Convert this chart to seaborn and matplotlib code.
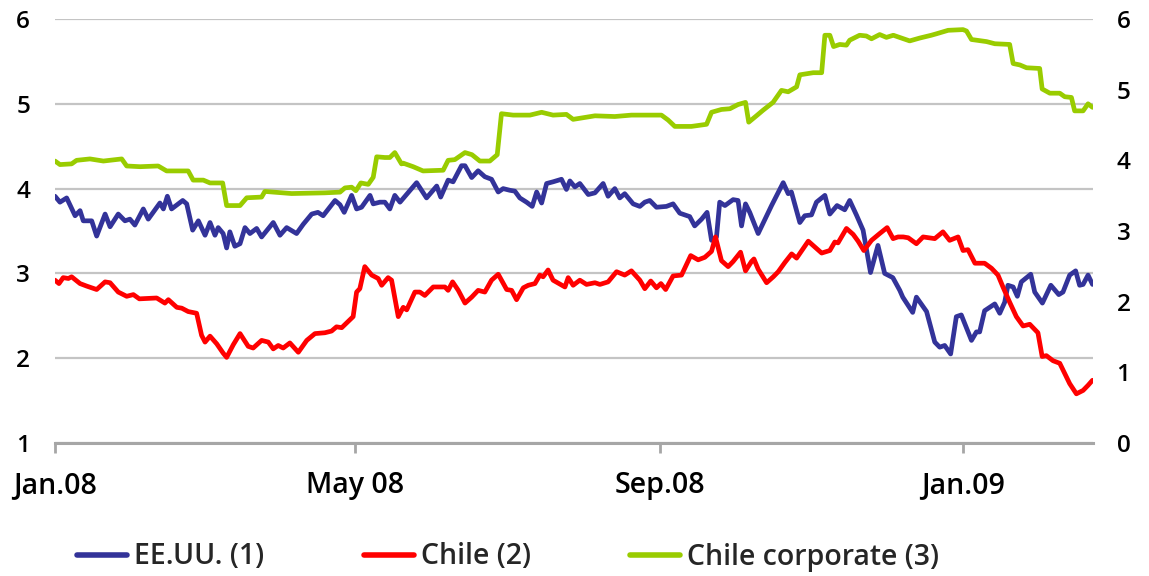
import matplotlib
matplotlib.use("Agg")
import matplotlib.pyplot as plt
import numpy as np
import pandas as pd
import seaborn as sns

# ---------------- data (days since 2008-01-01, values) ----------------
usa_days = [0, 2.0, 4.7, 8.1, 10.1, 11.4, 14.8, 16.8, 20.2, 22.2, 25.5, 28.2, 30.2, 32.2, 35.6, 37.6,
            42.3, 43.7, 45.3, 47.0, 51.5, 53.1, 55.5, 57.8, 60.5, 62.5, 64.5, 65.8, 67.8, 69.2, 70.5,
            72.5, 74.6, 76.6, 78.6, 81.3, 83.3, 88.0, 90.7, 93.4, 97.4, 100.1, 103.5, 106.0, 108.1,
            112.9, 114.9, 116.6, 119.6, 121.6, 123.6, 127.0, 128.3, 131.0, 133.0, 135.0, 137.0, 139.1,
            145.8, 149.8, 153.9, 155.5, 158.5, 160.5, 163.9, 165.3, 168.0, 170.6, 173.3, 176.0, 178.7,
            180.7, 183.4, 185.4, 187.4, 190.1, 192.4, 194.2, 196.2, 198.2, 200.8, 204.2, 206.2, 207.6,
            209.6, 211.6, 215.0, 217.7, 221.0, 223.0, 225.7, 227.7, 229.7, 233.1, 235.8, 237.8, 239.8,
            242.5, 246.5, 249.2, 251.9, 255.9, 257.9, 260.7, 262.9, 264.7, 266.7, 268.0, 270.1, 273.4,
            275.4, 276.8, 278.4, 280.1, 283.5, 288.9, 293.6, 295.6, 296.9, 300.3, 302.3, 305.0, 307.0,
            310.4, 312.4, 315.3, 318.4, 320.4, 323.1, 325.8, 328.8, 331.8, 334.5, 337.8, 340.6, 341.8,
            345.8, 347.3, 351.4, 354.7, 356.7, 358.7, 361.1, 363.4, 365.4, 369.5, 371.5, 372.8, 374.8,
            378.9, 380.9, 382.9, 384.2, 386.3, 388.0, 389.6, 393.4, 395.0, 398.1, 401.5, 404.7, 406.4,
            409.1, 411.5, 413.1, 414.5, 416.5, 418.3]
usa_vals = [3.91, 3.84, 3.89, 3.68, 3.74, 3.62, 3.62, 3.44, 3.70, 3.55, 3.70, 3.62, 3.64, 3.57, 3.76, 3.64,
            3.83, 3.76, 3.91, 3.76, 3.86, 3.82, 3.51, 3.62, 3.45, 3.60, 3.45, 3.54, 3.47, 3.30, 3.49,
            3.32, 3.35, 3.54, 3.47, 3.53, 3.43, 3.60, 3.45, 3.54, 3.47, 3.58, 3.70, 3.72, 3.68,
            3.86, 3.81, 3.72, 3.92, 3.76, 3.78, 3.92, 3.82, 3.84, 3.84, 3.76, 3.92, 3.84,
            4.07, 3.89, 4.03, 3.90, 4.10, 4.08, 4.27, 4.27, 4.13, 4.21, 4.14, 4.11, 3.96,
            4.00, 3.98, 3.97, 3.89, 3.84, 3.79, 3.96, 3.83, 4.06, 4.08, 4.11, 3.99, 4.09,
            4.02, 4.06, 3.93, 3.95, 4.06, 3.91, 4.00, 3.89, 3.94, 3.82, 3.79, 3.84, 3.86,
            3.78, 3.79, 3.82, 3.71, 3.67, 3.56, 3.64, 3.72, 3.39, 3.43, 3.84, 3.80, 3.87,
            3.86, 3.56, 3.82, 3.72, 3.47, 3.80, 4.07, 3.94, 3.96, 3.60, 3.68, 3.69, 3.84,
            3.92, 3.70, 3.80, 3.75, 3.86, 3.69, 3.51, 3.01, 3.33, 3.00, 2.95, 2.80, 2.72,
            2.54, 2.72, 2.55, 2.19, 2.13, 2.15, 2.05, 2.49, 2.51, 2.21, 2.31, 2.31, 2.56,
            2.64, 2.53, 2.66, 2.86, 2.84, 2.73, 2.90, 2.99, 2.78, 2.65, 2.86, 2.75, 2.78,
            2.98, 3.03, 2.86, 2.87, 2.98, 2.87]

chile_days = [0, 1.6, 3.3, 5.4, 6.7, 10.1, 12.8, 16.8, 20.2, 22.2, 25.5, 28.9, 31.6, 34.0, 41.0, 44.3,
              45.7, 49.1, 51.1, 53.7, 57.1, 59.1, 60.5, 62.5, 65.2, 67.8, 69.2, 71.9, 74.6, 77.9, 79.9,
              83.3, 86.0, 88.0, 90.0, 92.0, 94.7, 98.1, 101.5, 104.8, 108.8, 111.5, 113.5, 115.6, 120.2,
              121.6, 122.9, 124.9, 127.7, 130.3, 131.7, 134.3, 135.7, 138.4, 140.4, 141.8, 145.1, 147.1,
              149.1, 152.5, 157.2, 158.5, 160.3, 162.6, 165.3, 168.0, 170.6, 173.3, 176.0, 178.7, 182.1,
              184.1, 186.1, 188.8, 190.8, 193.5, 195.5, 196.8, 198.8, 200.8, 205.6, 206.9, 208.9, 211.6,
              214.3, 217.7, 219.7, 223.0, 226.4, 229.7, 232.4, 235.8, 237.8, 240.2, 242.5, 244.3, 246.2,
              249.2, 252.6, 256.3, 259.3, 262.0, 264.7, 266.3, 268.7, 271.4, 273.4, 276.4, 278.4, 280.8,
              281.8, 283.5, 286.9, 289.6, 291.6, 294.3, 297.0, 299.0, 303.7, 306.4, 309.1, 312.4, 314.4,
              315.7, 319.1, 321.8, 323.8, 326.1, 329.2, 332.5, 335.5, 337.9, 339.9, 342.0, 344.0, 347.3,
              350.0, 354.7, 358.0, 360.7, 364.1, 366.1, 368.1, 370.9, 374.8, 377.6, 380.2, 382.2, 384.9,
              387.6, 390.3, 393.0, 396.3, 398.0, 399.7, 402.4, 405.1, 407.1, 409.1, 411.8, 414.5, 416.5,
              418.3]
chile_vals = [2.92, 2.88, 2.95, 2.94, 2.96, 2.88, 2.85, 2.81, 2.90, 2.89, 2.78, 2.73, 2.75, 2.70, 2.71, 2.65,
              2.69, 2.60, 2.59, 2.55, 2.53, 2.27, 2.19, 2.26, 2.17, 2.06, 2.01, 2.16, 2.29, 2.14, 2.12,
              2.21, 2.19, 2.11, 2.15, 2.12, 2.18, 2.07, 2.21, 2.29, 2.30, 2.32, 2.37, 2.36, 2.49,
              2.78, 2.82, 3.08, 2.98, 2.94, 2.86, 2.95, 2.92, 2.49, 2.60, 2.57, 2.78, 2.78,
              2.74, 2.84, 2.84, 2.80, 2.90, 2.80, 2.65, 2.72, 2.80, 2.78, 2.92, 2.99, 2.81,
              2.80, 2.69, 2.83, 2.86, 2.88, 2.98, 2.96, 3.04, 2.92, 2.84, 2.95, 2.86, 2.92,
              2.87, 2.89, 2.87, 2.90, 3.02, 2.98, 3.03, 2.92, 2.82, 2.91, 2.83, 2.88, 2.81,
              2.97, 2.98, 3.21, 3.16, 3.19, 3.26, 3.43, 3.15, 3.08, 3.14, 3.25, 3.03, 3.14,
              3.17, 3.05, 2.89, 2.96, 3.02, 3.13, 3.23, 3.18, 3.38, 3.31, 3.24, 3.27, 3.37,
              3.36, 3.53, 3.46, 3.38, 3.27, 3.39, 3.47, 3.54, 3.41, 3.43, 3.43, 3.42, 3.35,
              3.43, 3.41, 3.49, 3.39, 3.43, 3.27, 3.28, 3.12, 3.12, 3.06, 2.98, 2.84, 2.66,
              2.49, 2.38, 2.40, 2.30, 2.02, 2.03, 1.97, 1.94, 1.82, 1.70, 1.58, 1.62, 1.68,
              1.74]

corp_days = [0, 2.0, 6.7, 8.7, 14.1, 19.5, 26.9, 28.9, 34.3, 41.6, 45.0, 53.7, 55.7, 59.8, 62.5, 67.6,
             69.2, 74.6, 77.3, 83.3, 84.6, 95.4, 108.8, 114.9, 116.9, 119.6, 121.3, 123.3, 126.3, 128.3,
             129.7, 133.0, 135.0, 137.0, 139.7, 140.4, 144.4, 148.4, 156.5, 158.5, 161.2, 165.3, 168.1,
             171.3, 175.3, 178.3, 180.0, 184.7, 191.5, 196.2, 200.8, 206.2, 208.9, 217.7, 225.7, 232.4,
             244.5, 247.2, 249.9, 256.6, 262.7, 264.7, 268.7, 272.1, 275.4, 278.4, 279.7, 282.8, 285.5,
             289.5, 292.9, 295.6, 299.0, 300.3, 305.7, 309.1, 310.4, 312.4, 313.9, 316.4, 319.1, 320.4,
             324.4, 327.1, 329.2, 332.5, 335.2, 338.0, 344.6, 348.6, 353.3, 355.3, 360.1, 366.1, 367.5,
             369.5, 375.6, 378.9, 384.9, 386.3, 389.0, 391.7, 397.0, 398.0, 401.1, 405.1, 407.1, 409.8,
             411.1, 414.5, 416.5, 418.3]
corp_vals = [3.99, 3.94, 3.95, 4.00, 4.02, 3.99, 4.02, 3.92, 3.91, 3.92, 3.85, 3.85, 3.72, 3.72, 3.68, 3.68,
             3.36, 3.36, 3.47, 3.48, 3.56, 3.53, 3.54, 3.55, 3.61, 3.62, 3.57, 3.68, 3.66, 3.76,
             4.05, 4.04, 4.04, 4.11, 3.95, 3.96, 3.91, 3.85, 3.86, 4.00, 4.01, 4.11, 4.08,
             3.99, 3.99, 4.08, 4.66, 4.64, 4.64, 4.68, 4.64, 4.65, 4.58, 4.63, 4.62, 4.64,
             4.64, 4.57, 4.48, 4.48, 4.51, 4.68, 4.72, 4.73, 4.79, 4.82, 4.54, 4.63, 4.71,
             4.82, 4.99, 4.97, 5.04, 5.21, 5.24, 5.24, 5.77, 5.77, 5.61, 5.64, 5.63, 5.70,
             5.77, 5.76, 5.72, 5.78, 5.74, 5.77, 5.69, 5.73, 5.77, 5.79, 5.84, 5.85, 5.83,
             5.71, 5.68, 5.65, 5.64, 5.37, 5.35, 5.31, 5.30, 5.01, 4.95, 4.95, 4.90, 4.89,
             4.70, 4.70, 4.80, 4.75]

series_labels = ["EE.UU. (1)", "Chile (2)", "Chile corporate (3)"]
tick_dates = ["2008-01-01", "2008-05-01", "2008-09-01", "2009-01-01"]
tick_labels = ["Jan.08", "May 08", "Sep.08", "Jan.09"]
left_ticks = [1, 2, 3, 4, 5, 6]
right_ticks = [0, 1, 2, 3, 4, 5, 6]

# ---------------- styling ----------------
sns.set_theme(style="white")
plt.rcParams["font.family"] = ["Open Sans", "DejaVu Sans"]
plt.rcParams["font.weight"] = "semibold"

BLUE = "#333399"
RED = "#FF0000"
GREEN = "#99CC00"
GRID = "#c4c4c4"
AXIS = "#a6a6a6"

start = pd.Timestamp("2008-01-01")


def frame(days, vals):
    return pd.DataFrame({"date": start + pd.to_timedelta(np.array(days), unit="D"),
                         "value": vals})


df_usa = frame(usa_days, usa_vals)
df_chile = frame(chile_days, chile_vals)
df_corp = frame(corp_days, corp_vals)

fig = plt.figure(figsize=(11.49, 5.76), dpi=100)
ax = fig.add_axes([55 / 1149, 1 - 443 / 576, (1093 - 55) / 1149, (443 - 19) / 576])
ax2 = ax.twinx()

lw = 3.4
sns.lineplot(data=df_usa, x="date", y="value", ax=ax, color=BLUE, linewidth=lw,
             estimator=None, sort=False, label=series_labels[0], legend=False)
sns.lineplot(data=df_chile, x="date", y="value", ax=ax, color=RED, linewidth=lw,
             estimator=None, sort=False, label=series_labels[1], legend=False)
sns.lineplot(data=df_corp, x="date", y="value", ax=ax2, color=GREEN, linewidth=lw,
             estimator=None, sort=False, label=series_labels[2], legend=False)

# axes limits
ax.set_xlim(start, start + pd.Timedelta(days=418.5))
ax.set_ylim(1, 6)
ax2.set_ylim(0, 6)

# grid
ax.set_yticks(left_ticks)
ax.grid(axis="y", color=GRID, linewidth=1.6)
ax.grid(axis="x", visible=False)
ax.set_axisbelow(True)
ax2.grid(False)
ax2.set_yticks(right_ticks)

for a in (ax, ax2):
    for s in ("top", "left", "right"):
        a.spines[s].set_visible(False)
    a.set_xlabel("")
    a.set_ylabel("")
ax2.spines["bottom"].set_visible(False)
ax.spines["bottom"].set_color(AXIS)
ax.spines["bottom"].set_linewidth(2.2)

ax.set_xticks(pd.to_datetime(tick_dates))
ax.set_xticklabels(tick_labels)
ax.tick_params(axis="x", bottom=True, direction="out", length=7, width=2.0, color=AXIS,
               pad=13, labelsize=20.5, labelcolor="black")
ax.tick_params(axis="y", left=False, length=0, pad=18, labelsize=17.5, labelcolor="black")
ax2.tick_params(axis="y", right=False, length=0, pad=17, labelsize=17.5, labelcolor="black")
ax.set_yticklabels([str(t) for t in left_ticks])
ax2.set_yticklabels([str(t) for t in right_ticks])

# legend
handles = ax.get_lines()[:2] + ax2.get_lines()[:1]
fig.legend(handles, series_labels, loc="center left", bbox_to_anchor=(77 / 1149, 1 - 557 / 576),
           ncol=3, frameon=False, fontsize=20.5, handlelength=1.75, handletextpad=0.25,
           columnspacing=3.5, borderpad=0, borderaxespad=0)
for lh in fig.legends[0].get_lines():
    lh.set_linewidth(4)

fig.savefig("out.png", dpi=100)
